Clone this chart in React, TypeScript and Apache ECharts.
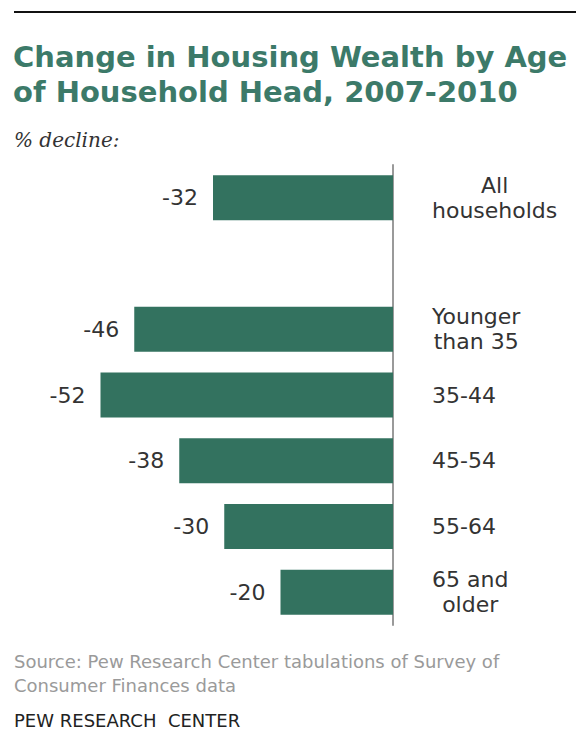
import React, { useEffect, useRef } from "react";
import * as echarts from "echarts";

const categories = [
  "All households",
  "",
  "Younger than 35",
  "35-44",
  "45-54",
  "55-64",
  "65 and older",
];
const labelLines: string[][] = [
  ["All", "households"],
  [],
  ["Younger", "than 35"],
  ["35-44"],
  ["45-54"],
  ["55-64"],
  ["65 and", "older"],
];
const declines: (number | null)[] = [-32, null, -46, -52, -38, -30, -20];

const titleLines = ["Change in Housing Wealth by Age", "of Household Head, 2007-2010"];
const subtitle = "% decline:";
const sourceLines = [
  "Source: Pew Research Center tabulations of Survey of",
  "Consumer Finances data",
];
const footer = "PEW RESEARCH  CENTER";

export default function App() {
  const ref = useRef<HTMLDivElement>(null);
  useEffect(() => {
    document.body.style.margin = "0";
    const chart = echarts.init(ref.current!, null, { renderer: "svg" });
    const green = "#3c7a69";
    chart.setOption({
      animation: false,
      backgroundColor: "#ffffff",
      grid: { left: 55.5, right: 183, top: 165, bottom: 128, containLabel: false },
      xAxis: {
        type: "value",
        min: -60,
        max: 0,
        show: false,
      },
      yAxis: {
        type: "category",
        data: categories,
        inverse: true,
        position: "right",
        axisLine: { show: true, onZero: true, lineStyle: { color: "#9a9a9a", width: 2 } },
        axisTick: { show: false },
        axisLabel: {
          margin: 39,
          align: "left",
          color: "#333333",
          fontFamily: "DejaVu Sans",
          fontSize: 22,
          lineHeight: 25,
          formatter: (_v: string, idx: number) =>
            labelLines[idx].map((l) => `{c|${l}}`).join("\n"),
          rich: {
            c: {
              align: "center",
              color: "#333333",
              fontFamily: "DejaVu Sans",
              fontSize: 22,
              lineHeight: 25,
            },
          },
        },
      },
      series: [
        {
          type: "bar",
          data: declines,
          barWidth: 45,
          itemStyle: { color: "#33725f" },
          label: {
            show: true,
            position: "left",
            distance: 15,
            color: "#333333",
            fontFamily: "DejaVu Sans",
            fontSize: 22,
          },
        },
      ],
      graphic: [
        {
          type: "line",
          shape: { x1: 14, y1: 12, x2: 576, y2: 12 },
          style: { stroke: "#111111", lineWidth: 2 },
        },
        ...titleLines.map((t, i) => ({
          type: "text",
          x: 13,
          y: 57 + i * 35,
          style: {
            text: t,
            fill: green,
            font: "bold 29px 'DejaVu Sans'",
            textVerticalAlign: "middle",
          },
        })),
        {
          type: "text",
          x: 14,
          y: 140,
          style: {
            text: subtitle,
            fill: "#333333",
            font: "italic 20px 'DejaVu Serif'",
            textVerticalAlign: "middle",
          },
        },
        ...sourceLines.map((t, i) => ({
          type: "text",
          x: 14,
          y: 661 + i * 24,
          style: {
            text: t,
            fill: "#9a9a9a",
            font: "18px 'DejaVu Sans'",
            textVerticalAlign: "middle",
          },
        })),
        {
          type: "text",
          x: 14,
          y: 720,
          style: {
            text: footer,
            fill: "#222222",
            font: "18px 'DejaVu Sans'",
            textVerticalAlign: "middle",
          },
        },
      ],
    });
    return () => chart.dispose();
  }, []);
  return <div ref={ref} style={{ width: 576, height: 753 }} />;
}
